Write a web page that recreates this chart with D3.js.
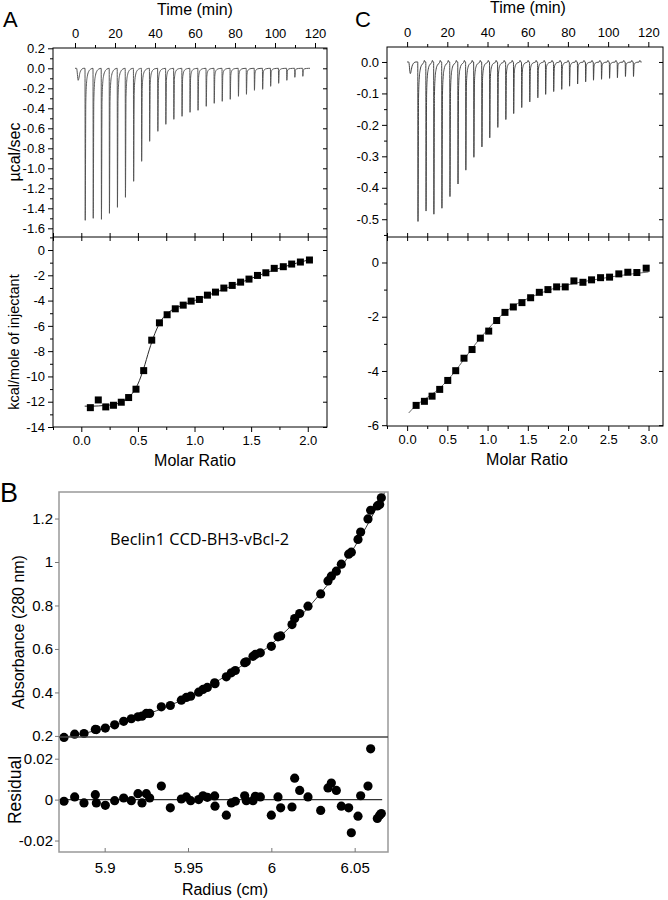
<!DOCTYPE html>
<html><head><meta charset="utf-8">
<script src="https://cdn.jsdelivr.net/npm/d3@7"></script>
<style>body{margin:0;background:#fff}svg{display:block}</style>
</head><body>
<svg id="c" width="668" height="900"></svg>
<script>
// ---------- Panel A data ----------
const aPeakTimes = [1.2,5,9.0,13.1,17.1,21.1,25.1,29.2,33.2,37.2,41.3,45.3,49.3,53.4,57.4,61.4,65.5,69.5,73.5,77.5,81.6,85.6,89.6,93.7,97.7,101.7,105.8,109.8,113.8];
const aPeakDepths = [-0.12,-1.52,-1.50,-1.51,-1.45,-1.39,-1.29,-1.13,-0.93,-0.73,-0.63,-0.56,-0.51,-0.48,-0.44,-0.42,-0.38,-0.35,-0.33,-0.31,-0.28,-0.26,-0.22,-0.21,-0.18,-0.15,-0.12,-0.09,-0.08];
const aRatio = [0.08,0.15,0.216,0.284,0.353,0.418,0.483,0.551,0.622,0.69,0.758,0.83,0.90,0.97,1.043,1.114,1.185,1.259,1.333,1.407,1.481,1.556,1.63,1.704,1.784,1.858,1.935,2.015];
const aHeat = [-12.47,-11.86,-12.41,-12.28,-12.04,-11.67,-11.01,-9.54,-7.13,-5.76,-5.12,-4.65,-4.36,-4.04,-3.91,-3.57,-3.33,-3.01,-2.80,-2.54,-2.30,-2.01,-1.80,-1.45,-1.32,-1.11,-0.95,-0.79];
const aFitRatio = [0.03,0.1,0.2,0.3,0.35,0.4,0.45,0.5,0.55,0.6,0.65,0.7,0.75,0.8,0.9,1.0,1.2,1.4,1.6,1.8,2.0];
const aFitHeat = [-12.35,-12.35,-12.3,-12.2,-12.05,-11.8,-11.35,-10.6,-9.4,-7.9,-6.6,-5.65,-5.1,-4.75,-4.35,-4.0,-3.3,-2.6,-1.9,-1.3,-0.8];
const aTimeTicks = [0,20,40,60,80,100,120];
const aTimeLabels = ["0","20","40","60","80","100","120"];
const aTimeMinor = [10,30,50,70,90,110];
const aPowerTicks = [0.2,0,-0.2,-0.4,-0.6,-0.8,-1.0,-1.2,-1.4,-1.6];
const aPowerLabels = ["0.2","0.0","-0.2","-0.4","-0.6","-0.8","-1.0","-1.2","-1.4","-1.6"];
const aPowerMinor = [0.1,-0.1,-0.3,-0.5,-0.7,-0.9,-1.1,-1.3,-1.5];
const aHeatTicks = [0,-2,-4,-6,-8,-10,-12,-14];
const aHeatLabels = ["0","-2","-4","-6","-8","-10","-12","-14"];
const aHeatMinor = [1,-1,-3,-5,-7,-9,-11,-13];
const aRatioTicks = [0,0.5,1,1.5,2];
const aRatioLabels = ["0.0","0.5","1.0","1.5","2.0"];
const aRatioMinor = [-0.25,0.25,0.75,1.25,1.75];

// ---------- Panel C data ----------
const cPeakTimes = [1.2,5.3,9.3,13.2,17.2,21.2,25.2,29.1,33.1,37.1,41.0,45.0,49.0,52.9,56.9,60.9,64.9,68.8,72.8,76.8,80.7,84.7,88.7,92.6,96.6,100.6,104.5,108.5,112.5];
const cPeakDepths = [-0.037,-0.507,-0.474,-0.484,-0.465,-0.428,-0.388,-0.344,-0.303,-0.270,-0.241,-0.208,-0.183,-0.164,-0.145,-0.127,-0.114,-0.103,-0.094,-0.087,-0.077,-0.070,-0.063,-0.058,-0.055,-0.052,-0.050,-0.046,-0.046];
const cRatio = [0.112,0.215,0.31,0.405,0.505,0.604,0.707,0.807,0.91,1.014,1.113,1.216,1.32,1.427,1.535,1.643,1.75,1.858,1.965,2.073,2.185,2.292,2.404,2.516,2.631,2.743,2.855,2.971];
const cHeat = [-5.27,-5.12,-4.93,-4.68,-4.35,-3.99,-3.53,-3.21,-2.79,-2.53,-2.14,-1.84,-1.64,-1.48,-1.30,-1.10,-1.00,-0.90,-0.90,-0.68,-0.73,-0.64,-0.56,-0.54,-0.42,-0.36,-0.37,-0.21];
const cFitRatio = [0.02,0.1,0.2,0.3,0.4,0.5,0.6,0.7,0.8,0.9,1.0,1.1,1.2,1.3,1.4,1.5,1.6,1.8,2.0,2.2,2.4,2.6,2.8,3.0];
const cFitHeat = [-5.55,-5.3,-5.08,-4.88,-4.65,-4.35,-4.0,-3.6,-3.2,-2.82,-2.48,-2.15,-1.88,-1.65,-1.47,-1.33,-1.2,-0.98,-0.82,-0.7,-0.6,-0.5,-0.42,-0.35];
const cTimeTicks = [0,20,40,60,80,100,120];
const cTimeLabels = ["0","20","40","60","80","100","120"];
const cTimeMinor = [10,30,50,70,90,110];
const cPowerTicks = [0,-0.1,-0.2,-0.3,-0.4,-0.5];
const cPowerLabels = ["0.0","-0.1","-0.2","-0.3","-0.4","-0.5"];
const cPowerMinor = [-0.05,-0.15,-0.25,-0.35,-0.45,-0.55];
const cHeatTicks = [0,-2,-4,-6];
const cHeatLabels = ["0","-2","-4","-6"];
const cHeatMinor = [-1,-3,-5];
const cRatioTicks = [0,0.5,1,1.5,2,2.5,3];
const cRatioLabels = ["0.0","0.5","1.0","1.5","2.0","2.5","3.0"];
const cRatioMinor = [-0.25,0.25,0.75,1.25,1.75,2.25,2.75];

// ---------- Panel B data ----------
const bRadius = [5.8756,5.882,5.8876,5.8944,5.895,5.9004,5.906,5.9114,5.916,5.920,5.9224,5.925,5.927,5.934,5.9394,5.946,5.949,5.9516,5.9564,5.959,5.9616,5.966,5.9662,5.973,5.976,5.9784,5.984,5.985,5.989,5.9904,5.9934,6.000,6.004,6.0056,6.0124,6.014,6.017,6.022,6.0296,6.034,6.036,6.039,6.042,6.0464,6.048,6.052,6.0536,6.058,6.0596,6.0636,6.065,6.066];
const bAbs = [0.193,0.208,0.211,0.230,0.229,0.236,0.251,0.267,0.279,0.288,0.291,0.3035,0.3035,0.334,0.340,0.3646,0.377,0.383,0.401,0.414,0.423,0.444,0.440,0.472,0.490,0.501,0.537,0.541,0.566,0.575,0.582,0.612,0.656,0.660,0.712,0.740,0.763,0.797,0.853,0.913,0.935,0.958,0.990,1.036,1.045,1.104,1.138,1.198,1.238,1.258,1.265,1.295];
const bResid = [-0.0008,0.0013,-0.0016,0.0024,-0.0016,-0.0028,-0.0005,0.0008,-0.0005,0.0029,-0.0016,0.0029,0.0008,0.0066,-0.004,0.0003,0.0013,-0.0005,0,0.0019,0.0011,0.0018,-0.0032,-0.0076,-0.0016,-0.0008,0.0019,-0.0005,-0.0005,0.0016,0.0013,-0.0076,0.0013,-0.004,-0.0036,0.0105,0.0045,0.0013,-0.0053,0.0057,0.0081,0.0045,-0.0032,-0.004,-0.0162,-0.0081,0.0019,0.0066,0.0248,-0.0092,-0.0076,-0.0068];
const bFitRadius = [5.873,5.9,5.925,5.95,5.975,6.0,6.025,6.05,6.068];
const bFitAbs = [0.19,0.235,0.298,0.378,0.487,0.622,0.815,1.07,1.32];
const bAbsTicks = [0.2,0.4,0.6,0.8,1,1.2];
const bAbsLabels = ["0.2","0.4","0.6","0.8","1","1.2"];
const bResTicks = [0.02,0,-0.02];
const bResLabels = ["0.02","0","-0.02"];
const bRadTicks = [5.9,5.95,6,6.05];
const bRadLabels = ["5.9","5.95","6","6.05"];

// ---------- drawing ----------
const svg = d3.select("#c");
const SANS = "'Liberation Sans', Arial, sans-serif";
const MYR = "'Open Sans', 'Liberation Sans', sans-serif";

function drawAxis(gen, tr, o) {
  const g = svg.append("g").attr("transform", tr).call(gen);
  g.select(".domain").remove();
  g.attr("font-family", o.font || SANS).attr("font-size", o.size || 13);
  g.selectAll("line").attr("stroke", o.color || "#000").attr("stroke-width", o.sw || 1);
  g.selectAll("text").attr("fill", o.tcolor || "#000");
  return g;
}
function lab(arr){ return (d,i)=>arr[i]; }

function rectFrame(l,r,t,b,color,sw){
  svg.append("rect").attr("x",l).attr("y",t).attr("width",r-l).attr("height",b-t)
    .attr("fill","none").attr("stroke",color).attr("stroke-width",sw);
}
function hline(x0,x1,y,color,sw){
  svg.append("line").attr("x1",x0).attr("x2",x1).attr("y1",y).attr("y2",y).attr("stroke",color).attr("stroke-width",sw);
}
function text(str,x,y,o){
  const t = svg.append("text").attr("x",x).attr("y",y).text(str)
    .attr("font-family",o.font||SANS).attr("font-size",o.size||16)
    .attr("text-anchor",o.anchor||"middle").attr("fill",o.fill||"#000");
  if(o.rot) t.attr("transform",`rotate(-90,${x},${y})`);
  return t;
}

function tracePoints(times, depths, tEnd, blip){
  const pts = [[0,0]];
  times.forEach((t,i)=>{
    const d = depths[i];
    if(i===0){ pts.push([t-0.4,0],[t+0.4,d],[t+1.3,d*0.35],[t+2.3,d*0.06],[t+3.2,0]); }
    else {
      pts.push([t,0],[t+0.12,d],[t+0.4,d*0.22],[t+0.75,d*0.1],[t+1.2,d*0.05],[t+1.9,d*0.02],[t+2.9,d*0.005]);
      if(blip) pts.push([t+3.3,blip],[t+3.6,0]);
    }
  });
  pts.push([tEnd,0]);
  return pts;
}

function itcPanel(P, s, d, color){
  const {xT, yP, xR, yH} = s;
  const line = d3.line().x(p=>xT(p[0])).y(p=>yP(p[1])).curve(d3.curveMonotoneX);
  svg.append("path").attr("d", line(tracePoints(d.times, d.depths, d.tEnd, d.blip)))
    .attr("fill","none").attr("stroke",color).attr("stroke-width",1);
  const fl = d3.line().x((v,i)=>xR(d.fitR[i])).y(v=>yH(v)).curve(d3.curveMonotoneX);
  svg.append("path").attr("d", fl(d.fitH)).attr("fill","none").attr("stroke",d.fitColor).attr("stroke-width",0.9);
  svg.append("g").selectAll("rect").data(d.ratio).join("rect")
    .attr("x",(v,i)=>xR(v)-3.5).attr("y",(v,i)=>yH(d.heat[i])-3.5)
    .attr("width",7).attr("height",7).attr("fill","#000");
  rectFrame(P.l,P.r,P.t,P.b,"#000",1);
  hline(P.l,P.r,P.m,"#000",1);
  drawAxis(d3.axisTop(xT).tickValues(d.timeTicks).tickFormat(lab(d.timeLabels)).tickSize(5).tickPadding(5), `translate(0,${P.t})`, {});
  drawAxis(d3.axisTop(xT).tickValues(d.timeMinor).tickFormat("").tickSize(3), `translate(0,${P.t})`, {});
  drawAxis(d3.axisLeft(yP).tickValues(d.powTicks).tickFormat(lab(d.powLabels)).tickSize(5).tickPadding(3), `translate(${P.l},0)`, {});
  drawAxis(d3.axisLeft(yP).tickValues(d.powMinor.filter(v=>yP(v)>P.t && yP(v)<P.m)).tickFormat("").tickSize(3), `translate(${P.l},0)`, {});
  drawAxis(d3.axisRight(yP).tickValues(d.powTicks).tickFormat("").tickSize(-4), `translate(${P.r},0)`, {});
  drawAxis(d3.axisBottom(xR).tickValues(d.ratioTicks.concat(d.ratioMinor)).tickFormat("").tickSize(-4), `translate(0,${P.m})`, {});
  drawAxis(d3.axisTop(xR).tickValues(d.ratioTicks.concat(d.ratioMinor)).tickFormat("").tickSize(-4), `translate(0,${P.m})`, {});
  drawAxis(d3.axisBottom(xR).tickValues(d.ratioTicks).tickFormat(lab(d.ratioLabels)).tickSize(5).tickPadding(4), `translate(0,${P.b})`, {});
  drawAxis(d3.axisBottom(xR).tickValues(d.ratioMinor).tickFormat("").tickSize(3), `translate(0,${P.b})`, {});
  drawAxis(d3.axisLeft(yH).tickValues(d.heatTicks).tickFormat(lab(d.heatLabels)).tickSize(5).tickPadding(3), `translate(${P.l},0)`, {});
  drawAxis(d3.axisLeft(yH).tickValues(d.heatMinor.filter(v=>yH(v)>P.m && yH(v)<P.b)).tickFormat("").tickSize(3), `translate(${P.l},0)`, {});
  drawAxis(d3.axisRight(yH).tickValues(d.heatTicks).tickFormat("").tickSize(-4), `translate(${P.r},0)`, {});
}

// Panel A
const PA = {l:53, r:327, t:48, m:237, b:427};
itcPanel(PA, {
  xT: d3.scaleLinear().domain([-11,126]).range([PA.l,PA.r]),
  yP: d3.scaleLinear().domain([-1.687,0.203]).range([PA.m,PA.t]),
  xR: d3.scaleLinear().domain([-0.25,2.17]).range([PA.l,PA.r]),
  yH: d3.scaleLinear().domain([-14,1.03]).range([PA.b,PA.m])
}, {times:aPeakTimes, depths:aPeakDepths, tEnd:117.5, blip:0, fitR:aFitRatio, fitH:aFitHeat, fitColor:"#111",
    ratio:aRatio, heat:aHeat, timeTicks:aTimeTicks, timeLabels:aTimeLabels, timeMinor:aTimeMinor,
    powTicks:aPowerTicks, powLabels:aPowerLabels, powMinor:aPowerMinor,
    heatTicks:aHeatTicks, heatLabels:aHeatLabels, heatMinor:aHeatMinor,
    ratioTicks:aRatioTicks, ratioLabels:aRatioLabels, ratioMinor:aRatioMinor}, "#555");

// Panel C
const PC = {l:387, r:663, t:47, m:237, b:426};
itcPanel(PC, {
  xT: d3.scaleLinear().domain([-10,127.3]).range([PC.l,PC.r]),
  yP: d3.scaleLinear().domain([-0.5565,0.0476]).range([PC.m,PC.t]),
  xR: d3.scaleLinear().domain([-0.25,3.18]).range([PC.l,PC.r]),
  yH: d3.scaleLinear().domain([-6.03,0.94]).range([PC.b,PC.m])
}, {times:cPeakTimes, depths:cPeakDepths, tEnd:116.7, blip:0.005, fitR:cFitRatio, fitH:cFitHeat, fitColor:"#555",
    ratio:cRatio, heat:cHeat, timeTicks:cTimeTicks, timeLabels:cTimeLabels, timeMinor:cTimeMinor,
    powTicks:cPowerTicks, powLabels:cPowerLabels, powMinor:cPowerMinor,
    heatTicks:cHeatTicks, heatLabels:cHeatLabels, heatMinor:cHeatMinor,
    ratioTicks:cRatioTicks, ratioLabels:cRatioLabels, ratioMinor:cRatioMinor}, "#444");

// ITC labels
text("A", 3, 27, {size:22, anchor:"start"});
text("C", 355, 27, {size:22, anchor:"start"});
text("Time (min)", 195, 15, {size:16});
text("Time (min)", 528, 13, {size:16});
text("Molar Ratio", 195, 466, {size:16});
text("Molar Ratio", 527, 465, {size:16});
text("\u00B5cal/sec", 20, 152, {size:16, rot:true});
text("kcal/mole of injectant", 19, 342, {size:14.5, rot:true});

// Panel B
const PB = {l:59, r:388, t:492, m:737, b:852};
const bx = d3.scaleLinear().domain([5.8726,6.0700]).range([PB.l,PB.r]);
const byA = d3.scaleLinear().domain([0.195,1.322]).range([PB.m,PB.t]);
const byR = d3.scaleLinear().domain([-0.0256,0.0306]).range([PB.b,PB.m]);

const bfl = d3.line().x((v,i)=>bx(bFitRadius[i])).y(v=>byA(v)).curve(d3.curveMonotoneX);
svg.append("path").attr("d", bfl(bFitAbs)).attr("fill","none").attr("stroke","#222").attr("stroke-width",0.9);
hline(PB.l, bx(6.0665), byR(0), "#333", 1.2);

svg.append("g").selectAll("circle").data(bRadius).join("circle")
  .attr("cx",v=>bx(v)).attr("cy",(v,i)=>byA(bAbs[i])).attr("r",4.6).attr("fill","#000");
svg.append("g").selectAll("circle").data(bRadius).join("circle")
  .attr("cx",v=>bx(v)).attr("cy",(v,i)=>byR(bResid[i])).attr("r",4.6).attr("fill","#000");

rectFrame(PB.l,PB.r,PB.t,PB.b,"#999",1.5);
hline(PB.l,PB.r,PB.m,"#444",1.3);

drawAxis(d3.axisLeft(byA).tickValues(bAbsTicks).tickFormat(lab(bAbsLabels)).tickSize(4).tickPadding(2), `translate(${PB.l},0)`, {size:15, color:"#777"});
drawAxis(d3.axisLeft(byR).tickValues(bResTicks).tickFormat(lab(bResLabels)).tickSize(4).tickPadding(2), `translate(${PB.l},0)`, {size:15, color:"#777"});
drawAxis(d3.axisBottom(bx).tickValues(bRadTicks).tickFormat(lab(bRadLabels)).tickSize(-4).tickPadding(10), `translate(0,${PB.b})`, {size:15, color:"#777"});

text("B", 0, 502, {size:27, anchor:"start"});
text("Beclin1 CCD-BH3-vBcl-2", 110, 545, {size:16.3, anchor:"start", font:MYR});
text("Absorbance (280 nm)", 24, 632, {size:16, rot:true});
text("Residual", 21, 790, {size:17.5, rot:true});
text("Radius (cm)", 225, 895, {size:16});
</script>
</body></html>
